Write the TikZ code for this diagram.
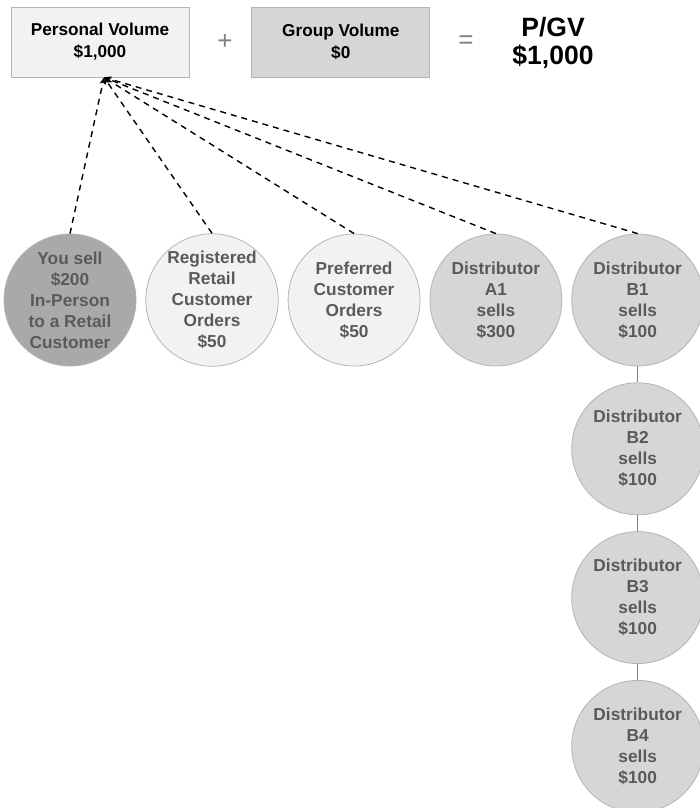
\documentclass[tikz,border=0pt]{standalone}
\usepackage{fontspec}
\setmainfont{Liberation Sans}
\usepackage{xcolor}
\usetikzlibrary{positioning, arrows.meta}

\definecolor{lightfill}{HTML}{F2F2F2}
\definecolor{midfill}{HTML}{D6D6D6}
\definecolor{darkfill}{HTML}{A9A9A9}
\definecolor{edgegray}{HTML}{B4B4B4}
\definecolor{textgray}{HTML}{5A5A5A}

\begin{document}
\begin{tikzpicture}[x=1pt, y=1pt, node distance=9pt,
        volbox/.style={rectangle, draw=edgegray, line width=0.8pt, inner sep=0pt,
                       minimum width=178pt, minimum height=70pt, align=center,
                       font=\fontsize{17.2}{22}\selectfont\bfseries},
        sale/.style={circle, draw=edgegray, line width=0.8pt, inner sep=0pt,
                     minimum size=132pt, align=center, text=textgray,
                     font=\fontsize{17.3}{21}\selectfont\bfseries},
        op/.style={text=gray, font=\fontsize{26}{26}\selectfont},
        dasharrow/.style={-{Stealth[length=7pt, width=6pt]}, dash pattern=on 6pt off 5pt,
                          line width=1.4pt},
        chain/.style={draw=gray, line width=0.9pt}]

    \useasboundingbox (0,0) rectangle (700,-808);

    % top row
    \node[volbox, fill=lightfill] (pv) at (100,-42) {Personal Volume\\\$1,000};
    \node[volbox, fill=midfill, right=62pt of pv] (gv) {Group Volume\\\$0};
    \node[op] (plus) at (225,-42) {+};
    \node[op] (equals) at (466,-42) {=};
    \node[align=center, font=\fontsize{26.5}{28}\selectfont\bfseries] (pgv) at (553,-43) {P/GV\\\$1,000};

    % sales circles
    \node[sale, fill=darkfill] (you) at (70,-300) {You sell\\\$200\\In-Person\\to a Retail\\Customer};
    \node[sale, fill=lightfill, right=of you] (reg)  {Registered\\Retail\\Customer\\Orders\\\$50};
    \node[sale, fill=lightfill, right=of reg]  (pref) {Preferred\\Customer\\Orders\\\$50};
    \node[sale, fill=midfill, right=of pref]   (a1)   {Distributor\\A1\\sells\\\$300};
    \node[sale, fill=midfill, right=of a1]     (b1)   {Distributor\\B1\\sells\\\$100};
    \node[sale, fill=midfill, below=16pt of b1] (b2)  {Distributor\\B2\\sells\\\$100};
    \node[sale, fill=midfill, below=16pt of b2] (b3)  {Distributor\\B3\\sells\\\$100};
    \node[sale, fill=midfill, below=16pt of b3] (b4)  {Distributor\\B4\\sells\\\$100};

    % volume flows
    \foreach \src in {you, reg, pref, a1, b1}
        \draw[dasharrow] (\src.north) -- ([xshift=4pt]pv.south);

    \draw[chain] (b1) -- (b2);
    \draw[chain] (b2) -- (b3);
    \draw[chain] (b3) -- (b4);
\end{tikzpicture}
\end{document}
